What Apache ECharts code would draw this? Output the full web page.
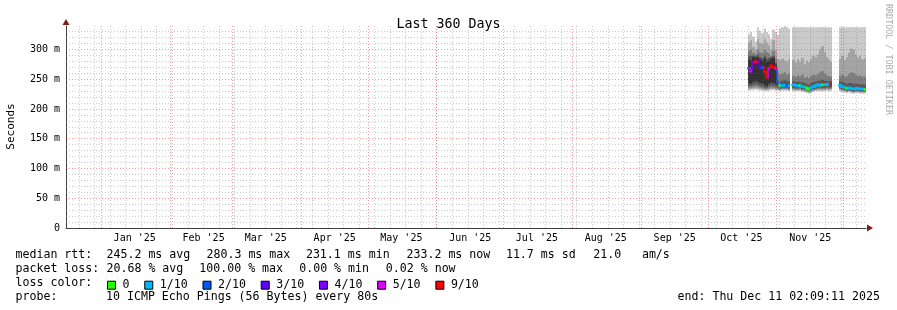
<!DOCTYPE html>
<html><head><meta charset="utf-8">
<script src="https://cdn.jsdelivr.net/npm/echarts@6/dist/echarts.min.js"></script>
<style>html,body{margin:0;padding:0;background:#fff}#c{width:897px;height:310px}</style>
</head><body><div id="c"></div>
<script>
// ---------- data ----------
const endTimeStr = '2025-12-11T02:09:11Z';
const spanDays = 360;
const firstBinDay = '2025-10-19';          // first daily bin with data
const monthLabels = ["Jan '25","Feb '25","Mar '25","Apr '25","May '25","Jun '25","Jul '25","Aug '25","Sep '25","Oct '25","Nov '25"];
const monthLabelDates = ['2025-01-16','2025-02-16','2025-03-16','2025-04-16','2025-05-16','2025-06-16','2025-07-16','2025-08-16','2025-09-16','2025-10-16','2025-11-16'];
const monthStarts = ['2025-01-01','2025-02-01','2025-03-01','2025-04-01','2025-05-01','2025-06-01','2025-07-01','2025-08-01','2025-09-01','2025-10-01','2025-11-01','2025-12-01'];
const firstSunday = '2024-12-22';
const yMax = 340;
const yMajorTicks = [50,100,150,200,250,300];

const lossNames = ['0','1/10','2/10','3/10','4/10','5/10','9/10'];
const lossLevels = [0,1,2,3,4,5,9];
const lossColors = ['#26ff00','#00b8ff','#0059ff','#5e00ff','#7e00ff','#dd00ff','#ff0000'];
const smokeColors = ['#cacaca','#a4a4a4','#7e7e7e','#585858','#323232'];

// daily values (ms), d0 = Oct 19 2025 ... d52 = Dec 10 2025; null = no data
const median = [269,264,278,280,280,272,270,263,254,269,273,271,268, 244,239,240,240,240,239, null,
  241,240,239,240,238,237,235,233,236,238,240,241,240,241,241,242,241,242, null,null,null,
  240,238,236,235,236,235,234,235,235,234,234,233];
const loss = [2,5,4,9,4,3,2,9,9,5,9,9,5, 2,0,1,1,2,1, null,
  1,1,1,0,1,1,0,0,1,1,1,1,1,0,1,1,1,9, null,null,null,
  1,1,1,0,1,1,1,1,1,1,1,0];
const p10 = [326,330,322,314,338,332,328,336,330,326,318,334,330, 325,336,338,340,338,336, null,
  338,338,338,338,338,338,338,338,338,338,338,338,338,338,338,338,338,338, null,null,null,
  338,338,338,338,338,338,338,338,338,338,338,338];
const p9 = [312,316,305,300,318,312,310,318,312,308,300,316,300, 285,282,285,282,280,284, null,
  283,278,284,280,286,276,282,279,285,290,287,292,300,306,296,288,284,280, null,null,null,
  285,290,283,288,295,302,300,292,287,290,284,286];
const p8 = [298,300,295,292,300,296,295,300,296,294,290,298,285, 262,258,260,262,258,260, null,
  256,254,257,255,258,253,255,252,256,258,257,259,262,264,260,257,256,255, null,null,null,
  256,258,255,256,259,262,261,258,256,257,255,255];
const p7 = [290,290,290,290,292,288,286,290,285,286,288,290,278, 248,247,248,249,248,247, null,
  247,246,246,246,245,244,243,241,244,246,247,248,248,249,248,248,247,248, null,null,null,
  247,246,244,243,244,244,243,243,243,242,242,241];
const p6 = [284,282,288,286,288,284,282,286,280,282,285,286,275, 246,241,242,242,242,241, null,
  243,242,241,242,240,239,237,235,238,240,242,243,242,243,243,244,243,244, null,null,null,
  242,240,238,237,238,237,236,237,237,236,236,235];
const p5 = [244,243,246,248,246,244,243,240,239,243,245,244,242, 240,237,238,238,238,237, null,
  239,238,237,238,236,235,233,231,234,236,238,239,238,239,239,240,239,240, null,null,null,
  238,236,234,233,234,233,232,233,233,232,232,231];
const p4 = [239,239,241,242,241,239,238,236,236,238,240,239,238, 236,235,236,236,236,235, null,
  236,235,235,236,234,233,232,230,232,234,235,236,236,236,236,237,236,237, null,null,null,
  236,234,232,231,232,231,230,231,231,230,230,230];
const p3 = [236,236,237,238,237,236,235,234,234,235,236,236,235, 234,233,234,234,234,233, null,
  234,233,233,234,232,231,230,229,230,232,233,234,234,234,234,235,234,235, null,null,null,
  234,232,231,230,231,230,229,230,230,229,229,229];
const p2 = [234,234,235,235,235,234,233,232,232,233,234,234,233, 233,232,233,233,233,232, null,
  232,232,232,232,231,230,229,228,229,231,232,232,232,232,232,233,232,233, null,null,null,
  232,231,230,229,230,229,228,229,229,228,228,228];
const p1 = [231,232,232,233,232,231,231,230,230,231,232,232,231, 231,230,231,231,231,230, null,
  230,230,230,230,229,228,227,226,227,229,230,230,230,230,230,231,230,231, null,null,null,
  230,229,228,227,228,227,226,227,227,226,226,226];

// ---------- layout ----------
const G_LEFT = 66, G_WIDTH = 800, G_TOP = 26, G_BOTTOM_Y = 228;
const G_HEIGHT = G_BOTTOM_Y - G_TOP;

// ---------- build ----------
const DAY = 86400000;
const endTime = Date.parse(endTimeStr);
const startTime = endTime - spanDays * DAY;
const bin0 = Date.parse(firstBinDay);
const MONO = '"DejaVu Sans Mono", monospace';

const smokeData = [];
const medianData = lossLevels.map(() => []);
for (let d = 0; d < median.length; d++) {
  if (median[d] == null) continue;
  const t0 = bin0 + d * DAY, t1 = t0 + DAY;
  smokeData.push([t0, t1, p1[d], p10[d], p2[d], p9[d], p3[d], p8[d], p4[d], p7[d], p5[d], p6[d]]);
  const prev = (d > 0 && median[d - 1] != null) ? median[d - 1] : median[d];
  const li = lossLevels.indexOf(loss[d]);
  medianData[li].push([t0, t1, median[d], prev]);
}

// snap grid lines to pixel centres so the dotted lines stay crisp
function snapT(t) {
  const px = G_LEFT + (t - startTime) / (endTime - startTime) * G_WIDTH;
  const s = Math.floor(px) + 0.5;
  return startTime + (s - G_LEFT) / G_WIDTH * (endTime - startTime);
}
function snapV(v) {
  const py = G_BOTTOM_Y - v / yMax * G_HEIGHT;
  const s = Math.floor(py) + 0.5;
  return (G_BOTTOM_Y - s) / G_HEIGHT * yMax;
}
const minorStyle = { color: 'rgba(110,110,110,0.36)', type: [1, 2], width: 1 };
const majorStyle = { color: 'rgba(255,0,0,0.40)', type: [1, 2], width: 1 };
const gridLines = [];
for (let t = Date.parse(firstSunday); t < endTime; t += 7 * DAY) gridLines.push({ xAxis: snapT(t), lineStyle: minorStyle });
monthStarts.forEach(s => gridLines.push({ xAxis: snapT(Date.parse(s)), lineStyle: majorStyle }));
for (let v = 10; v < yMax; v += 10) if (yMajorTicks.indexOf(v) < 0) gridLines.push({ yAxis: snapV(v), lineStyle: minorStyle });
yMajorTicks.forEach(v => gridLines.push({ yAxis: snapV(v), lineStyle: majorStyle }));

const labelValues = monthLabelDates.map(s => Date.parse(s));

function smokeItem(params, api) {
  const x0 = Math.round(api.coord([api.value(0), 0])[0]);
  const x1 = Math.round(api.coord([api.value(1), 0])[0]);
  const children = [];
  for (let b = 0; b < 5; b++) {
    const lo = api.value(2 + 2 * b), hi = api.value(3 + 2 * b);
    const yt = api.coord([api.value(0), hi])[1];
    const yb = api.coord([api.value(0), lo])[1];
    children.push({ type: 'rect', shape: { x: x0, y: yt, width: x1 - x0, height: yb - yt }, style: { fill: smokeColors[b] } });
  }
  return { type: 'group', children };
}
function medianItemFactory(color) {
  return function (params, api) {
    const p = api.coord([api.value(0), api.value(2)]);
    const x0 = Math.round(p[0]);
    const x1 = Math.round(api.coord([api.value(1), 0])[0]);
    const y = p[1];
    const yp = api.coord([api.value(0), api.value(3)])[1];
    const h = 2.6;
    return { type: 'group', children: [
      { type: 'rect', shape: { x: x0, y: y - h / 2, width: x1 - x0, height: h }, style: { fill: color } },
      { type: 'rect', shape: { x: x0 - 0.75, y: Math.min(y, yp) - h / 2, width: 1.5, height: Math.abs(y - yp) + h }, style: { fill: color } }
    ] };
  };
}

const series = [{
  type: 'custom', name: 'smoke', renderItem: smokeItem, data: smokeData, z: 1, clip: true,
  encode: { x: [0, 1], y: [2, 3] }, silent: true, animation: false
}];
lossLevels.forEach((lv, i) => {
  series.push({
    type: 'custom', name: lossNames[i], renderItem: medianItemFactory(lossColors[i]), data: medianData[i],
    z: 3, clip: true, encode: { x: [0, 1], y: [2, 3] }, itemStyle: { color: lossColors[i] }, silent: true, animation: false
  });
});
series.push({
  type: 'line', name: 'grid', data: [[startTime, null]], z: 10, silent: true, showSymbol: false, animation: false,
  markLine: { silent: true, symbol: ['none', 'none'], label: { show: false }, animation: false, emphasis: { disabled: true }, data: gridLines },
  markPoint: { silent: true, animation: false, label: { show: false }, data: [
    { coord: [endTime, 0], symbol: 'triangle', symbolSize: [7, 6], symbolRotate: -90, symbolOffset: [4, 0], itemStyle: { color: '#7a1c1c' } },
    { coord: [startTime, yMax], symbol: 'triangle', symbolSize: [7, 6], symbolOffset: [0, -4], itemStyle: { color: '#7a1c1c' } }
  ] }
});

function txt(x, y, text) {
  return { type: 'text', silent: true, x: 0, y: 0, style: { text, x, y, font: '11.6px ' + MONO, fill: '#000',
    align: 'left', textAlign: 'left', verticalAlign: 'middle', textVerticalAlign: 'middle' } };
}
function vtxt(x, y, text, font, fill, rot) {
  return { type: 'text', silent: true, x, y, rotation: rot,
    style: { text, x: 0, y: 0, font, fill, align: 'center', textAlign: 'center', verticalAlign: 'middle', textVerticalAlign: 'middle' } };
}
const R1 = 255.2, R2 = 269.2, R3 = 283.2, R4 = 297.2;

const option = {
  backgroundColor: '#fff',
  animation: false,
  title: { text: 'Last 360 Days', left: 'center', top: 13, textStyle: { fontFamily: MONO, fontSize: 13.3, fontWeight: 'normal', color: '#000' } },
  grid: { left: G_LEFT, width: G_WIDTH, top: G_TOP, height: G_HEIGHT, containLabel: false },
  xAxis: {
    type: 'value', min: startTime, max: endTime,
    axisLine: { show: true, lineStyle: { color: '#404040', width: 1 } },
    axisTick: { show: false }, splitLine: { show: false },
    axisLabel: { customValues: labelValues, margin: 5, fontFamily: MONO, fontSize: 10, color: '#000',
      formatter: v => { const i = labelValues.indexOf(v); return i >= 0 ? monthLabels[i] : ''; } }
  },
  yAxis: {
    type: 'value', min: 0, max: yMax, interval: 50,
    axisLine: { show: true, lineStyle: { color: '#404040', width: 1 } },
    axisTick: { show: false }, splitLine: { show: false },
    axisLabel: { margin: 6, fontFamily: MONO, fontSize: 10, color: '#000',
      formatter: v => (v % 50 !== 0 || v > 300) ? '' : (v === 0 ? '0' : v + ' m') }
  },
  legend: {
    data: lossNames, left: 107, top: R3 - 4, padding: 0, itemWidth: 8, itemHeight: 8, itemGap: 14.8,
    icon: 'rect', selectedMode: false,
    itemStyle: { borderColor: '#000', borderWidth: 1 },
    textStyle: { fontFamily: MONO, fontSize: 11.6, color: '#000', padding: [0, 0, 0, 2] }
  },
  graphic: { elements: [
    vtxt(11, 126.5, 'Seconds', '11px ' + MONO, '#000', Math.PI / 2),
    vtxt(888.5, 59.5, 'RRDTOOL / TOBI OETIKER', '8.4px ' + MONO, '#aaaaaa', -Math.PI / 2),
    txt(15.5, R1, 'median rtt:'), txt(106.5, R1, '245.2 ms avg'), txt(206.5, R1, '280.3 ms max'),
    txt(305.9, R1, '231.1 ms min'), txt(406.5, R1, '233.2 ms now'), txt(505.9, R1, '11.7 ms sd'),
    txt(593.2, R1, '21.0'), txt(641.9, R1, 'am/s'),
    txt(15.5, R2, 'packet loss:'), txt(106.5, R2, '20.68 % avg'), txt(199.3, R2, '100.00 % max'),
    txt(299.2, R2, '0.00 % min'), txt(385.8, R2, '0.02 % now'),
    txt(15.5, R3, 'loss color:'),
    txt(15.5, R4, 'probe:'), txt(106, R4, '10 ICMP Echo Pings (56 Bytes) every 80s'),
    txt(677.5, R4, 'end: Thu Dec 11 02:09:11 2025')
  ] },
  series
};

const chart = echarts.init(document.getElementById('c'), null, { renderer: 'canvas' });
chart.setOption(option);
</script></body></html>
